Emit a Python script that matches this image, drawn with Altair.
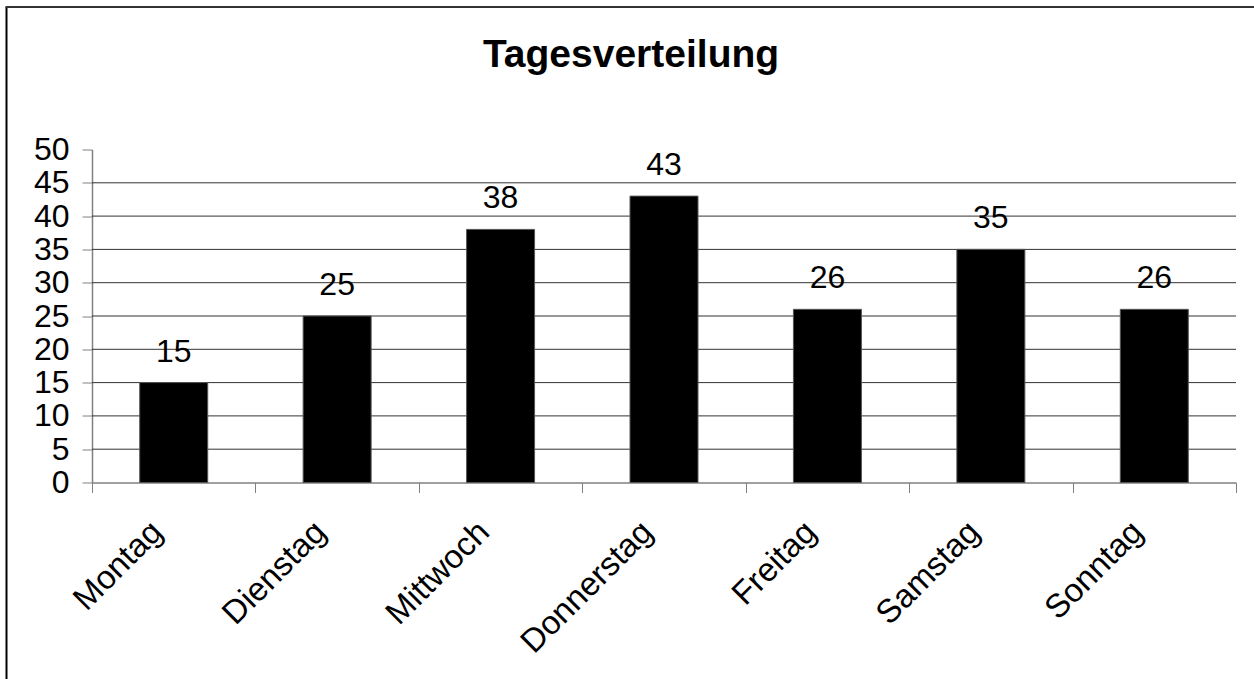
import altair as alt
import pandas as pd

days = ["Montag", "Dienstag", "Mittwoch", "Donnerstag", "Freitag", "Samstag", "Sonntag"]
counts = [15, 25, 38, 43, 26, 35, 26]
grid_values = [5, 10, 15, 20, 25, 30, 35, 40, 45]
y_ticks = [0, 5, 10, 15, 20, 25, 30, 35, 40, 45, 50]
title_text = "Tagesverteilung"

FONT = "Liberation Sans"

df = pd.DataFrame({"Tag": days, "Anzahl": counts})
grid_df = pd.DataFrame({"Anzahl": grid_values})
title_df = pd.DataFrame({"t": [title_text]})

x_scale = alt.Scale(domain=days, paddingInner=0, paddingOuter=0)
y_scale = alt.Scale(domain=[0, 50], nice=False)

x_axis = alt.Axis(
    title=None, labelAngle=315, labelAlign="right", labelBaseline="middle",
    labelFont=FONT, labelFontSize=33, labelColor="black", labelPadding=34,
    labelOffset=-17, tickBand="extent", ticks=True, tickSize=10, tickColor="#808080",
    domainColor="#808080", domainWidth=1.5, grid=False, labelOverlap=False,
)
y_axis = alt.Axis(
    title=None, values=y_ticks, labelFont=FONT, labelFontSize=32, labelColor="black",
    labelPadding=13, tickSize=10, tickColor="#808080", domainColor="#808080",
    domainWidth=1.5, grid=False, labelOverlap=False, labelBound=False,
)

grid = alt.Chart(grid_df).mark_rule(color="#333333", strokeWidth=1).encode(
    y=alt.Y("Anzahl:Q", scale=y_scale, axis=y_axis),
)

bars = alt.Chart(df).mark_bar(
    color="black", stroke="#555555", strokeWidth=1, width=alt.RelativeBandSize(0.416)
).encode(
    x=alt.X("Tag:N", scale=x_scale, axis=x_axis, sort=days),
    y=alt.Y("Anzahl:Q", scale=y_scale, axis=y_axis),
)

labels = alt.Chart(df).mark_text(
    font=FONT, fontSize=32, color="black", baseline="alphabetic", dy=-21
).encode(
    x=alt.X("Tag:N", scale=x_scale, axis=x_axis, sort=days),
    y=alt.Y("Anzahl:Q", scale=y_scale, axis=y_axis),
    text=alt.Text("Anzahl:Q"),
)

title = alt.Chart(title_df).mark_text(
    font=FONT, fontSize=39, fontWeight="bold", color="black",
    baseline="alphabetic", align="center"
).encode(
    x=alt.value(539), y=alt.value(-83), text="t:N"
)

border_left = alt.Chart(pd.DataFrame({"a": [0]})).mark_rule(color="black", strokeWidth=2).encode(
    x=alt.value(-85.5), y=alt.value(-142.5), y2=alt.value(560)
)
border_top = alt.Chart(pd.DataFrame({"a": [0]})).mark_rule(color="#333333", strokeWidth=2).encode(
    x=alt.value(-86.5), x2=alt.value(1200), y=alt.value(-142.5)
)

chart = alt.layer(grid, bars, labels, title, border_left, border_top).properties(
    width=1144,
    height=333,
    autosize=alt.AutoSizeParams(type="none"),
    padding={"left": 92, "top": 149.5, "right": 18, "bottom": 196.5},
    background="white",
).configure_view(stroke=None).configure_axis(labelOverlap=False)

chart.save("out.html", embed_options={"renderer": "svg", "actions": False})
